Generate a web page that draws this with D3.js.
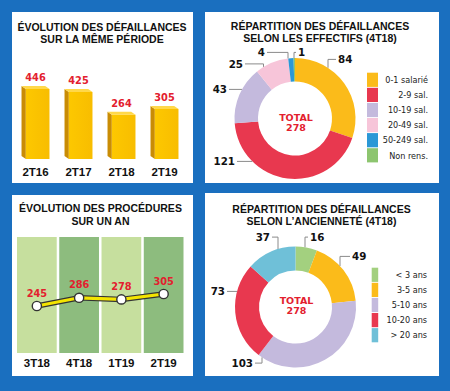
<!DOCTYPE html>
<html><head><meta charset="utf-8">
<script src="https://cdn.jsdelivr.net/npm/d3@7/dist/d3.min.js"></script>
<style>
html,body{margin:0;padding:0;background:#1a6fbf;}
svg{display:block;}
</style></head>
<body>
<script>
// ---------- DATA ----------
const barCategories = ["2T16", "2T17", "2T18", "2T19"];
const barValues = [446, 425, 264, 305];

const lineCategories = ["3T18", "4T18", "1T19", "2T19"];
const lineValues = [245, 286, 278, 305];

const effectifLabels = ["0-1 salarié", "2-9 sal.", "10-19 sal.", "20-49 sal.", "50-249 sal.", "Non rens."];
const effectifValues = [84, 121, 43, 25, 4, 1];
const effectifColors = ["#fbbb1a", "#e8384f", "#c4badd", "#f7c5d9", "#2b98d6", "#8dc56f"];

const ancienneteLabels = ["< 3 ans", "3-5 ans", "5-10 ans", "10-20 ans", "> 20 ans"];
const ancienneteValues = [16, 49, 103, 73, 37];
const ancienneteColors = ["#a3d07f", "#fbbb1a", "#c4badd", "#e8384f", "#6fc0d8"];

const totalText = ["TOTAL", "278"];

// ---------- LAYOUT ----------
const W = 450, H = 391;
const RED = "#e3202e";
const svg = d3.select("body").append("svg").attr("width", W).attr("height", H);
svg.append("rect").attr("width", W).attr("height", H).attr("fill", "#1a6fbf");

const panels = [
  {x: 12, y: 12, w: 181, h: 171},
  {x: 205, y: 12, w: 234, h: 171},
  {x: 12, y: 195, w: 181, h: 181},
  {x: 205, y: 193, w: 234, h: 183}
];
panels.forEach(p => svg.append("rect").attr("x", p.x).attr("y", p.y).attr("width", p.w).attr("height", p.h).attr("fill", "#fff"));

function title(lines, cx, y0) {
  lines.forEach((t, i) => {
    svg.append("text").attr("x", cx).attr("y", y0 + i * 12.2)
      .attr("text-anchor", "middle")
      .style("font-family", "'Liberation Sans', Arial, sans-serif")
      .style("font-weight", "bold").style("font-size", "10.5px").attr("fill", "#111")
      .text(t);
  });
}
title(["ÉVOLUTION DES DÉFAILLANCES", "SUR LA MÊME PÉRIODE"], 102, 31);
title(["RÉPARTITION DES DÉFAILLANCES", "SELON LES EFFECTIFS (4T18)"], 320, 29.5);
title(["ÉVOLUTION DES PROCÉDURES", "SUR UN AN"], 100.5, 212.3);
title(["RÉPARTITION DES DÉFAILLANCES", "SELON L’ANCIENNETÉ (4T18)"], 321.5, 212.5);

// ---------- PANEL 1 : 3D bars ----------
const xb = d3.scaleBand().domain(barCategories).range([14, 186]).paddingInner(0.35).paddingOuter(0.175);
const yb = d3.scaleLinear().domain([-50, 446]).range([159, 89]);
const dx = 4.3, dy = 3;
const g1 = svg.append("g");
const defs = svg.append("defs");
const grad = defs.append("linearGradient").attr("id", "barFront").attr("x1", 0).attr("x2", 1).attr("y1", 0).attr("y2", 0);
grad.append("stop").attr("offset", "0%").attr("stop-color", "#fdc800");
grad.append("stop").attr("offset", "100%").attr("stop-color", "#f8bd00");
barCategories.forEach((c, i) => {
  const x0 = xb(c) + dx, x1 = xb(c) + xb.bandwidth();
  const top = yb(barValues[i]), bot = yb(-50);
  g1.append("polygon").attr("points", [[x0 - dx, top - dy], [x0, top], [x0, bot], [x0 - dx, bot - dy]].join(" ")).attr("fill", "#c98c05");
  g1.append("rect").attr("x", x0).attr("y", top).attr("width", x1 - x0).attr("height", bot - top).attr("fill", "url(#barFront)");
  g1.append("polygon").attr("points", [[x0 - dx, top - dy], [x1 - dx, top - dy], [x1, top], [x0, top]].join(" ")).attr("fill", "#ffd84a");
  g1.append("text").attr("x", xb(c) + xb.bandwidth() / 2).attr("y", top - dy - 5)
    .attr("text-anchor", "middle").style("font-family", "'DejaVu Sans', sans-serif").style("font-weight", "bold")
    .style("font-size", "9.8px").attr("fill", RED).text(barValues[i]);
  g1.append("text").attr("x", xb(c) + xb.bandwidth() / 2).attr("y", 176)
    .attr("text-anchor", "middle").style("font-family", "'Liberation Sans', Arial, sans-serif").style("font-weight", "bold")
    .style("font-size", "11.5px").attr("fill", "#111").text(c);
});

// ---------- PANEL 3 : line over green columns ----------
const xl = d3.scaleBand().domain(lineCategories).range([17, 183.5]).paddingInner(0.06);
const yl = d3.scaleLinear().domain([245, 305]).range([306, 294]);
const g3 = svg.append("g");
lineCategories.forEach((c, i) => {
  g3.append("rect").attr("x", xl(c)).attr("y", 237).attr("width", xl.bandwidth()).attr("height", 116)
    .attr("fill", i % 2 === 0 ? "#c6df9e" : "#8dbc7e");
  g3.append("text").attr("x", xl(c) + xl.bandwidth() / 2).attr("y", 367)
    .attr("text-anchor", "middle").style("font-family", "'Liberation Sans', Arial, sans-serif").style("font-weight", "bold")
    .style("font-size", "11.5px").attr("fill", "#111").text(c);
});
const pts = lineCategories.map((c, i) => [xl(c) + xl.bandwidth() / 2, yl(lineValues[i])]);
const line = d3.line();
g3.append("path").attr("d", line(pts)).attr("fill", "none").attr("stroke", "#333").attr("stroke-width", 5.5);
g3.append("path").attr("d", line(pts)).attr("fill", "none").attr("stroke", "#f4e400").attr("stroke-width", 3.2);
pts.forEach((p, i) => {
  g3.append("circle").attr("cx", p[0]).attr("cy", p[1]).attr("r", 4.6).attr("fill", "#fff").attr("stroke", "#333").attr("stroke-width", 1.4);
  g3.append("text").attr("x", p[0]).attr("y", p[1] - 9.5).attr("text-anchor", "middle")
    .style("font-family", "'DejaVu Sans', sans-serif").style("font-weight", "bold").style("font-size", "9.8px")
    .attr("fill", RED).text(lineValues[i]);
});

// ---------- Donuts ----------
function donut(cfg) {
  const g = svg.append("g").attr("transform", `translate(${cfg.cx},${cfg.cy})`);
  const pie = d3.pie().sort(null).value(d => d)(cfg.values);
  const arc = d3.arc().innerRadius(cfg.ri).outerRadius(cfg.ro);
  g.selectAll("path.s").data(pie).join("path").attr("d", arc).attr("fill", (d, i) => cfg.colors[i]);
  g.append("text").attr("x", 1).attr("y", cfg.totalY).attr("text-anchor", "middle")
    .style("font-family", "'DejaVu Sans', sans-serif").style("font-weight", "bold").style("font-size", "9.5px")
    .attr("fill", RED).text(totalText[0]);
  g.append("text").attr("x", 1).attr("y", cfg.totalY + 10).attr("text-anchor", "middle")
    .style("font-family", "'DejaVu Sans', sans-serif").style("font-weight", "bold").style("font-size", "9.5px")
    .attr("fill", RED).text(totalText[1]);
  // labels with leader lines
  const R = cfg.ro;
  cfg.values.forEach((v, i) => {
    const L = cfg.labels[i];
    if (!L) return;
    const t = g.append("text").attr("x", L.x).attr("y", L.y).attr("text-anchor", L.anchor)
      .style("font-family", "'DejaVu Sans', sans-serif").style("font-weight", "bold").style("font-size", "10.3px")
      .attr("fill", "#111").text(v);
    const ly = L.y - 3.6;
    const sx = L.anchor === "end" ? L.x + 2 : L.x - 2;
    let ptsL;
    if (L.elbow === undefined) {
      const ex = (L.anchor === "end" ? -1 : 1) * Math.sqrt(Math.max(0, R * R - ly * ly));
      ptsL = [[sx, ly], [ex, ly]];
    } else {
      const s = ly < 0 ? -1 : 1;
      const ey = s * Math.sqrt(Math.max(0, R * R - L.elbow * L.elbow));
      ptsL = [[sx, ly], [L.elbow, ly], [L.elbow, ey]];
    }
    g.append("path").attr("d", d3.line()(ptsL)).attr("fill", "none").attr("stroke", "#8a8a8a").attr("stroke-width", 1);
  });
  // legend
  const lg = svg.append("g");
  cfg.legend.forEach((name, i) => {
    lg.append("rect").attr("x", cfg.lx).attr("y", cfg.ly + i * 15.1).attr("width", cfg.lw).attr("height", 14.2).attr("fill", cfg.colors[i]);
    lg.append("text").attr("x", cfg.tx).attr("y", cfg.ly + i * 15.1 + 10.3).attr("text-anchor", "end")
      .style("font-family", "'DejaVu Sans Condensed', 'DejaVu Sans', sans-serif").style("font-size", "9px")
      .attr("fill", "#222").text(name);
  });
}

donut({
  cx: 295, cy: 118.5, ri: 37, ro: 60.5, values: effectifValues, colors: effectifColors, totalY: 2,
  legend: effectifLabels, lx: 367, ly: 72.7, lw: 11, tx: 428,
  labels: [
    {x: 43, y: -55.5, anchor: "start", elbow: 33},
    {x: -60, y: 46.5, anchor: "end"},
    {x: -68, y: -25.5, anchor: "end"},
    {x: -52, y: -51, anchor: "end", elbow: -31.5},
    {x: -30, y: -62.5, anchor: "end", elbow: -7},
    {x: 3, y: -62.5, anchor: "start", elbow: -1}
  ]
});

donut({
  cx: 295.5, cy: 307, ri: 36.5, ro: 60.5, values: ancienneteValues, colors: ancienneteColors, totalY: -3,
  legend: ancienneteLabels, lx: 371.7, ly: 267.7, lw: 6.5, tx: 427,
  labels: [
    {x: 14.5, y: -66.3, anchor: "start", elbow: 9.5},
    {x: 56.5, y: -47, anchor: "start", elbow: 44.5},
    {x: -42.5, y: 59.7, anchor: "end", elbow: -33.5},
    {x: -70.5, y: -12, anchor: "end"},
    {x: -25.5, y: -66.3, anchor: "end", elbow: -17.5}
  ]
});
</script>
</body></html>
